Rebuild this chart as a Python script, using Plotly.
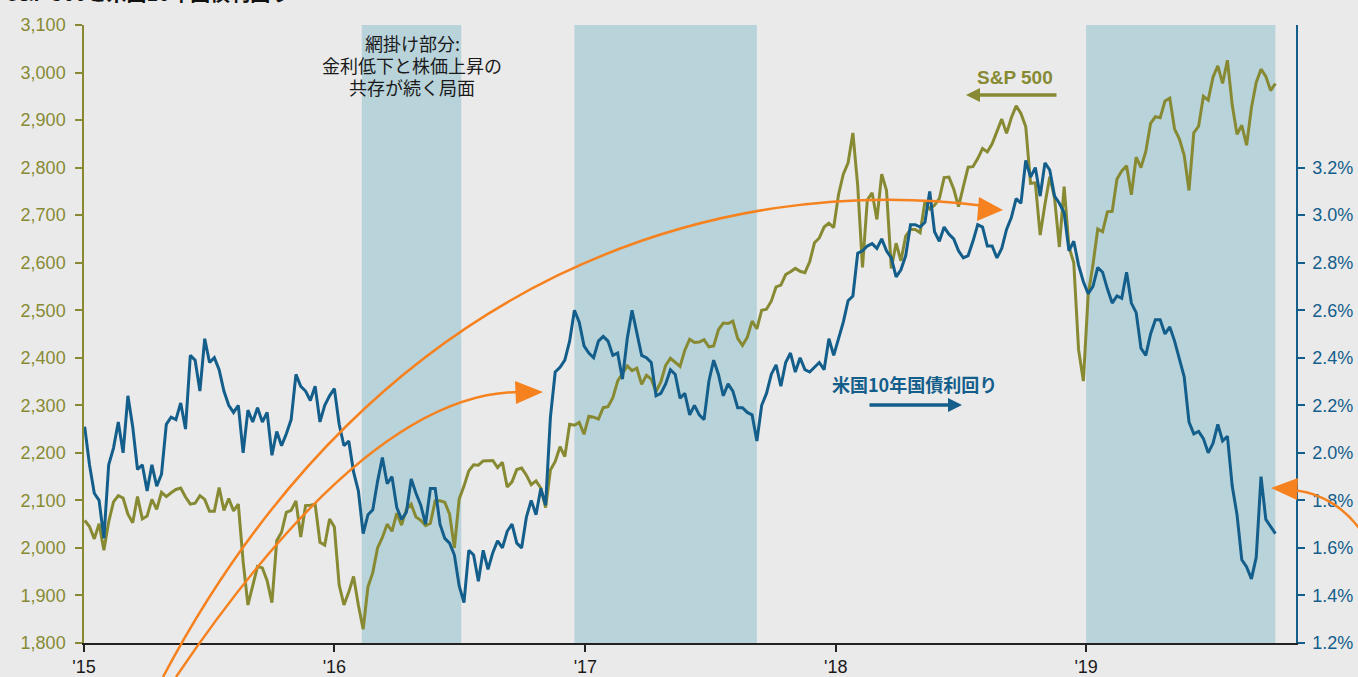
import pandas as pd
import plotly.graph_objects as go

# ---------------- data (weekly, Friday) ----------------
year_start = ["2015-01-02", "2016-01-01", "2017-01-06", "2018-01-05", "2019-01-04"]

spx_2015 = [2058, 2045, 2019, 2051, 1995, 2055, 2097, 2110, 2105, 2071,
            2053, 2108, 2061, 2067, 2102, 2081, 2117, 2108, 2116, 2123,
            2126, 2107, 2092, 2094, 2110, 2102, 2077, 2077, 2127, 2079,
            2104, 2078, 2092, 1971, 1880, 1921, 1961, 1958, 1931, 1885,
            2015, 2033, 2075, 2079, 2099, 2023, 2089, 2090, 2092, 2012,
            2006, 2061]
spx_2016 = [2044, 1922, 1880, 1907, 1940, 1880, 1829, 1918, 1948, 2000,
            2022, 2050, 2035, 2073, 2048, 2081, 2092, 2065, 2058, 2047,
            2052, 2099, 2099, 2096, 2071, 2000, 2103, 2130, 2162, 2175,
            2174, 2183, 2184, 2184, 2169, 2180, 2128, 2139, 2165, 2168,
            2153, 2133, 2141, 2126, 2085, 2164, 2182, 2213, 2192, 2260,
            2258, 2264, 2239]
spx_2017 = [2277, 2275, 2271, 2295, 2297, 2316, 2351, 2367, 2383, 2373,
            2378, 2344, 2363, 2355, 2329, 2349, 2384, 2399, 2391, 2382,
            2416, 2439, 2432, 2433, 2438, 2423, 2425, 2459, 2473, 2472,
            2477, 2441, 2426, 2443, 2477, 2461, 2500, 2502, 2519, 2549,
            2553, 2575, 2581, 2588, 2582, 2579, 2602, 2642, 2652, 2675,
            2683, 2674]
spx_2018 = [2743, 2786, 2810, 2873, 2762, 2590, 2732, 2747, 2691, 2786,
            2752, 2588, 2641, 2604, 2656, 2670, 2670, 2663, 2728, 2713,
            2721, 2735, 2779, 2780, 2755, 2718, 2760, 2801, 2802, 2819,
            2840, 2833, 2850, 2875, 2902, 2872, 2905, 2930, 2914, 2886,
            2767, 2768, 2658, 2723, 2781, 2736, 2633, 2760, 2633, 2600,
            2417, 2351]
spx_2019 = [2532, 2596, 2671, 2665, 2707, 2708, 2776, 2793, 2804, 2743,
            2822, 2800, 2834, 2893, 2907, 2905, 2940, 2946, 2881, 2860,
            2826, 2752, 2873, 2887, 2950, 2942, 2990, 3014, 2977, 3026,
            2932, 2870, 2889, 2847, 2926, 2979, 3007, 2992, 2962, 2977]

yld_2015 = [2.11, 1.95, 1.83, 1.80, 1.64, 1.95, 2.02, 2.13, 2.00, 2.24,
            2.11, 1.93, 1.95, 1.84, 1.95, 1.86, 1.91, 2.12, 2.15, 2.14,
            2.21, 2.10, 2.41, 2.39, 2.26, 2.48, 2.38, 2.40, 2.35, 2.26,
            2.20, 2.17, 2.20, 2.00, 2.18, 2.13, 2.19, 2.13, 2.17, 1.99,
            2.09, 2.03, 2.08, 2.14, 2.33, 2.28, 2.26, 2.22, 2.28, 2.13,
            2.20, 2.24]
yld_2016 = [2.27, 2.12, 2.03, 2.05, 1.92, 1.84, 1.66, 1.74, 1.76, 1.88,
            1.98, 1.87, 1.90, 1.77, 1.72, 1.75, 1.89, 1.83, 1.78, 1.70,
            1.85, 1.85, 1.70, 1.64, 1.62, 1.57, 1.44, 1.37, 1.59, 1.57,
            1.46, 1.59, 1.51, 1.58, 1.63, 1.60, 1.67, 1.70, 1.62, 1.60,
            1.73, 1.80, 1.74, 1.85, 1.78, 2.15, 2.34, 2.36, 2.39, 2.47,
            2.60, 2.55, 2.45]
yld_2017 = [2.42, 2.40, 2.47, 2.49, 2.47, 2.41, 2.42, 2.31, 2.48, 2.60,
            2.50, 2.41, 2.40, 2.38, 2.24, 2.25, 2.29, 2.35, 2.33, 2.23,
            2.25, 2.16, 2.20, 2.16, 2.14, 2.30, 2.39, 2.33, 2.24, 2.29,
            2.26, 2.19, 2.19, 2.17, 2.16, 2.05, 2.20, 2.25, 2.33, 2.37,
            2.28, 2.38, 2.42, 2.34, 2.40, 2.35, 2.34, 2.36, 2.38, 2.35,
            2.48, 2.41]
yld_2018 = [2.48, 2.55, 2.64, 2.66, 2.84, 2.85, 2.87, 2.88, 2.86, 2.90,
            2.85, 2.82, 2.74, 2.77, 2.83, 2.96, 2.96, 2.95, 2.97, 3.10,
            2.93, 2.89, 2.95, 2.92, 2.90, 2.85, 2.82, 2.83, 2.89, 2.96,
            2.95, 2.87, 2.87, 2.82, 2.86, 2.94, 2.99, 3.07, 3.05, 3.23,
            3.16, 3.20, 3.08, 3.22, 3.19, 3.08, 3.05, 3.01, 2.85, 2.89,
            2.79, 2.72]
yld_2019 = [2.67, 2.70, 2.78, 2.76, 2.69, 2.63, 2.66, 2.65, 2.76, 2.63,
            2.59, 2.44, 2.41, 2.50, 2.56, 2.56, 2.50, 2.53, 2.47, 2.39,
            2.32, 2.13, 2.08, 2.09, 2.06, 2.00, 2.04, 2.12, 2.05, 2.07,
            1.86, 1.74, 1.55, 1.52, 1.47, 1.56, 1.90, 1.72, 1.69, 1.66]

shade_start = ["2016-02-10", "2016-12-16", "2019-01-01"]
shade_end = ["2016-07-04", "2017-09-08", "2019-10-04"]

year_ticks = ["2015-01-01", "2016-01-01", "2017-01-01", "2018-01-01", "2019-01-01"]
year_labels = ["'15", "'16", "'17", "'18", "'19"]
spx_ticks = list(range(1800, 3101, 100))
yld_ticks = [1.2, 1.4, 1.6, 1.8, 2.0, 2.2, 2.4, 2.6, 2.8, 3.0, 3.2]
yld_labels = [f"{v:.1f}%" for v in yld_ticks]

note_lines = ["網掛け部分:", "金利低下と株価上昇の", "共存が続く局面"]

# ---------------- build series ----------------
def series(starts, lists):
    xs, ys = [], []
    for s, vals in zip(starts, lists):
        d = pd.date_range(s, periods=len(vals), freq="W-FRI")
        xs.extend(d)
        ys.extend(vals)
    return xs, ys

spx_x, spx_y = series(year_start, [spx_2015, spx_2016, spx_2017, spx_2018, spx_2019])
yld_x, yld_y = series(year_start, [yld_2015, yld_2016, yld_2017, yld_2018, yld_2019])

OLIVE = "#878A33"
BLUE = "#135E8B"
ORANGE = "#F5821F"
BG = "#EAEAEA"
SHADE = "#B9D3DB"
FONT = "Liberation Sans, Arial, sans-serif"
JFONT = "Noto Sans CJK JP, sans-serif"

W, H = 1358, 677
L, R, T, B = 84, 1296, 25, 643


def px(x):
    return (x - L) / (R - L)


def py(y):
    return (B - y) / (B - T)


fig = go.Figure()
fig.add_trace(go.Scatter(x=spx_x, y=spx_y, mode="lines", name="S&P 500",
                         line=dict(color=OLIVE, width=3), hoverinfo="skip"))
fig.add_trace(go.Scatter(x=yld_x, y=yld_y, mode="lines", name="米国10年国債利回り",
                         line=dict(color=BLUE, width=3), yaxis="y2", hoverinfo="skip"))

shapes = []
for s, e in zip(shade_start, shade_end):
    shapes.append(dict(type="rect", xref="x", yref="paper", x0=s, x1=e, y0=0, y1=1,
                       fillcolor=SHADE, line=dict(width=0), layer="below"))


def P(x, y):
    return f"{px(x):.5f},{py(y):.5f}"

# orange curved arrows (decoration)
shapes.append(dict(type="path", xref="paper", yref="paper",
                   path=f"M {P(176, 677)} Q {P(369, 392)} {P(520, 392)}",
                   line=dict(color=ORANGE, width=2.5)))
shapes.append(dict(type="path", xref="paper", yref="paper",
                   path=f"M {P(163, 677)} C {P(379, 269)} {P(724, 172)} {P(985, 206)}",
                   line=dict(color=ORANGE, width=2.5)))
shapes.append(dict(type="path", xref="paper", yref="paper",
                   path=f"M {P(1292, 490)} Q {P(1335, 494)} {P(1362, 532)}",
                   line=dict(color=ORANGE, width=2.5)))
# arrowheads
shapes.append(dict(type="path", xref="paper", yref="paper",
                   path=f"M {P(543, 392)} L {P(515, 381)} L {P(516, 404)} Z",
                   fillcolor=ORANGE, line=dict(width=0)))
shapes.append(dict(type="path", xref="paper", yref="paper",
                   path=f"M {P(1003, 210)} L {P(979, 197)} L {P(977, 221)} Z",
                   fillcolor=ORANGE, line=dict(width=0)))
shapes.append(dict(type="path", xref="paper", yref="paper",
                   path=f"M {P(1271, 488)} L {P(1298, 478)} L {P(1297, 500)} Z",
                   fillcolor=ORANGE, line=dict(width=0)))

annotations = [
    dict(xref="paper", yref="paper", x=px(4), y=py(9), xanchor="left", yanchor="bottom",
         text="<b>S&P 500と米国10年国債利回り</b>", showarrow=False,
         font=dict(family=JFONT, size=20, color="#111111")),
    dict(xref="paper", yref="paper", x=px(1015), y=py(77), xanchor="center", yanchor="middle",
         text="<b>S&P 500</b>", showarrow=False,
         font=dict(family=FONT, size=19, color=OLIVE)),
    dict(xref="paper", yref="paper", x=px(966), y=py(95), ax=92, ay=0, text="",
         showarrow=True, arrowhead=2, arrowsize=0.8, arrowwidth=3.5, arrowcolor=OLIVE,
         standoff=0),
    dict(xref="paper", yref="paper", x=px(914), y=py(384), xanchor="center", yanchor="middle",
         text="<b>米国10年国債利回り</b>", showarrow=False,
         font=dict(family=JFONT, size=18, color=BLUE)),
    dict(xref="paper", yref="paper", x=px(962), y=py(405), ax=-94, ay=0, text="",
         showarrow=True, arrowhead=2, arrowsize=0.8, arrowwidth=3.5, arrowcolor=BLUE,
         standoff=0),
]
for i, line in enumerate(note_lines):
    annotations.append(dict(xref="paper", yref="paper", x=px(412), y=py(43 + 22 * i),
                            xanchor="center", yanchor="middle", text=line, showarrow=False,
                            font=dict(family=JFONT, size=18, color="#1A1A1A")))

fig.update_layout(
    width=W, height=H,
    margin=dict(l=L, r=W - R, t=T, b=H - B, autoexpand=False),
    paper_bgcolor=BG, plot_bgcolor=BG,
    showlegend=False,
    shapes=shapes, annotations=annotations,
    xaxis=dict(range=["2015-01-01", "2019-11-03"], tickvals=year_ticks, ticktext=year_labels,
               automargin=False,
               showgrid=False, zeroline=False, showline=True, linecolor="#222222", linewidth=1.5,
               ticks="outside", ticklen=7, tickcolor="#222222", tickwidth=1.5,
               tickfont=dict(family=FONT, size=18, color="#1A1A1A")),
    yaxis=dict(range=[1800, 3100], tickvals=spx_ticks, tickformat=",d", automargin=False,
               showgrid=False, zeroline=False, showline=True, linecolor=OLIVE, linewidth=1.5,
               ticks="outside", ticklen=7, tickcolor=OLIVE, tickwidth=1.5,
               tickfont=dict(family=FONT, size=18, color=OLIVE), ticklabelstandoff=6),
    yaxis2=dict(range=[1.2, 3.8], tickvals=yld_ticks, ticktext=yld_labels, automargin=False,
                overlaying="y", side="right",
                showgrid=False, zeroline=False, showline=True, linecolor=BLUE, linewidth=1.5,
                ticks="outside", ticklen=7, tickcolor=BLUE, tickwidth=1.5,
                tickfont=dict(family=FONT, size=18, color=BLUE), ticklabelstandoff=4),
)

fig.write_html("out.html")
